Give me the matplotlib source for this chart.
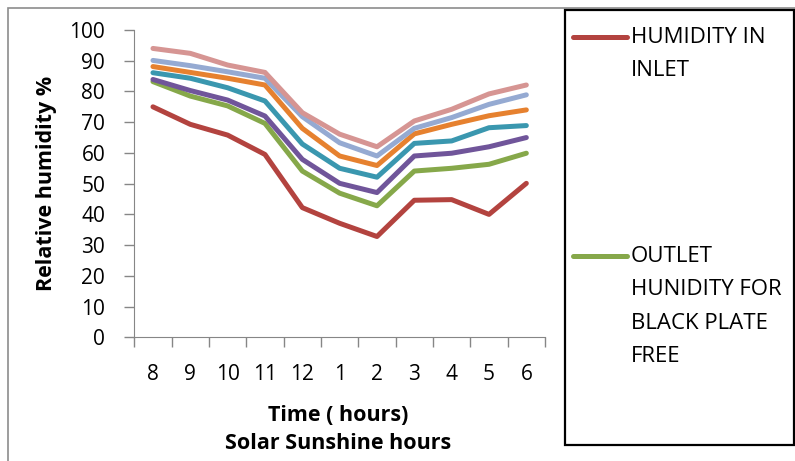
import matplotlib
matplotlib.use('Agg')
from matplotlib import pyplot as plt
from matplotlib.lines import Line2D
from matplotlib.patches import Rectangle
import numpy as np

plt.rcParams['font.family'] = ['Open Sans', 'DejaVu Sans']

hours = ['8', '9', '10', '11', '12', '1', '2', '3', '4', '5', '6']

inlet = [75, 69.3, 65.8, 59.5, 42.2, 37.1, 32.8, 44.6, 44.8, 40.0, 50.1]
outlet_free = [83.2, 78.5, 75.3, 69.6, 54.1, 46.9, 42.8, 54.1, 55.0, 56.3, 59.9]
outlet_purple = [83.9, 80.3, 77.2, 72.0, 57.9, 50.1, 47.1, 59.0, 59.9, 62.0, 65.0]
outlet_teal = [86.1, 84.3, 81.2, 76.9, 62.9, 55.0, 52.1, 63.1, 63.9, 68.2, 68.9]
outlet_orange = [88.1, 86.2, 84.3, 82.1, 68.0, 59.0, 55.9, 66.2, 69.3, 72.1, 74.0]
outlet_lblue = [90.1, 88.4, 86.4, 84.3, 71.8, 63.3, 59.0, 68.0, 71.5, 75.8, 78.9]
outlet_pink = [94.0, 92.4, 88.6, 86.2, 73.1, 66.1, 62.0, 70.4, 74.2, 79.2, 82.1]

series = [inlet, outlet_free, outlet_purple, outlet_teal, outlet_orange, outlet_lblue, outlet_pink]
colors = ['#B3433F', '#86A84A', '#70559A', '#3A97AF', '#E6812F', '#95AAD2', '#D69593']
legend_labels = ['HUMIDITY IN\nINLET', 'OUTLET\nHUNIDITY FOR\nBLACK PLATE\nFREE']

W, H = 795, 461


def fx(px):
    return px / W


def fy(py):
    return 1 - py / H


fig = plt.figure(figsize=(7.95, 4.61), dpi=100)

# outer chart border
fig.add_artist(Rectangle((fx(8), fy(475)), fx(810) - fx(8), fy(8) - fy(475),
                         transform=fig.transFigure, fill=False, edgecolor='#8C8C8C', lw=1.2))

ax = fig.add_axes([fx(134.3), fy(337.3), fx(545) - fx(134.3), fy(30) - fy(337.3)])

x = np.arange(len(hours))
lines = []
for s, c in zip(series, colors):
    ln, = ax.plot(x, s, color=c, lw=3.6, solid_capstyle='round', solid_joinstyle='round')
    lines.append(ln)

ax.set_xlim(-0.5, len(hours) - 0.5)
ax.set_ylim(0, 100)
ax.set_yticks(np.arange(0, 101, 10))
ax.set_xticks(np.arange(-0.5, len(hours), 1))
ax.set_xticklabels([])
ax.set_xticks(x, minor=True)
ax.set_xticklabels(hours, minor=True)
ax.tick_params(axis='x', which='major', length=7, width=1, color='#868686', direction='out')
ax.tick_params(axis='x', which='minor', length=0, pad=19, labelsize=15)
ax.tick_params(axis='y', length=7, width=1, color='#868686', pad=14, labelsize=15)
for side in ['top', 'right']:
    ax.spines[side].set_visible(False)
for side in ['left', 'bottom']:
    ax.spines[side].set_color('#868686')

fig.text(fx(47), fy(183), 'Relative humidity %', rotation=90, ha='center', va='center',
         fontsize=15.5, fontweight='bold')
fig.text(fx(338), fy(415), 'Time ( hours)', ha='center', va='center', fontsize=15.5, fontweight='bold')
fig.text(fx(338), fy(443), 'Solar Sunshine hours', ha='center', va='center', fontsize=15.5, fontweight='bold')

# legend box
fig.add_artist(Rectangle((fx(565), fy(445)), fx(794) - fx(565), fy(10) - fy(445),
                         transform=fig.transFigure, fill=False, edgecolor='black', lw=1.6))
for ln, lab, ly in zip(lines[:2], legend_labels, [37, 256]):
    fig.add_artist(Line2D([fx(573), fx(627)], [fy(ly), fy(ly)], transform=fig.transFigure,
                          color=ln.get_color(), lw=3.6, solid_capstyle='round'))
    fig.text(fx(631), fy(ly - 10), lab, ha='left', va='top', fontsize=16, linespacing=1.78)

fig.savefig('out.png', dpi=100)
